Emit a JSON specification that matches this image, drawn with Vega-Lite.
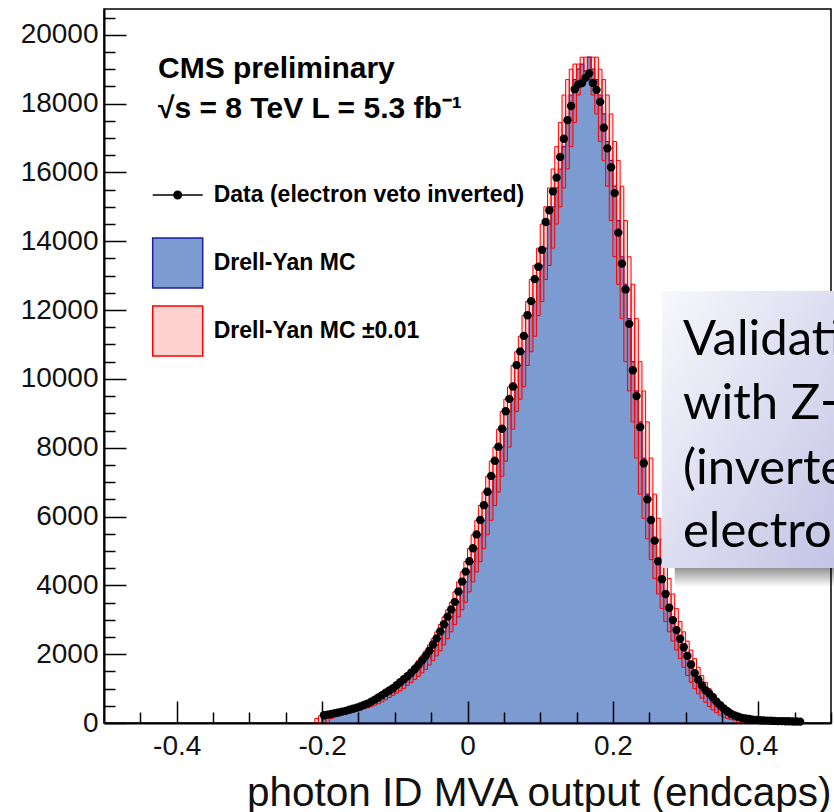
{
  "$schema": "https://vega.github.io/schema/vega-lite/v6.json",
  "width": 727,
  "height": 714,
  "autosize": {"type": "none"},
  "padding": {"left": 104, "top": 9, "right": 3, "bottom": 89},
  "background": "white",
  "config": {"view": {"stroke": "black", "strokeWidth": 1.5}, "font": "Liberation Sans"},
  "resolve": {"axis": {"x": "independent", "y": "independent"}},
  "datasets": {
    "mc": [
      {"lo": -0.2, "n": 130}, {"lo": -0.195, "n": 210}, {"lo": -0.19, "n": 240}, {"lo": -0.185, "n": 260},
      {"lo": -0.18, "n": 280}, {"lo": -0.175, "n": 305}, {"lo": -0.17, "n": 330}, {"lo": -0.165, "n": 350},
      {"lo": -0.16, "n": 380}, {"lo": -0.155, "n": 410}, {"lo": -0.15, "n": 440}, {"lo": -0.145, "n": 475},
      {"lo": -0.14, "n": 520}, {"lo": -0.135, "n": 560}, {"lo": -0.13, "n": 615}, {"lo": -0.125, "n": 675},
      {"lo": -0.12, "n": 740}, {"lo": -0.115, "n": 805}, {"lo": -0.11, "n": 870}, {"lo": -0.105, "n": 940},
      {"lo": -0.1, "n": 1005}, {"lo": -0.095, "n": 1095}, {"lo": -0.09, "n": 1180}, {"lo": -0.085, "n": 1265},
      {"lo": -0.08, "n": 1355}, {"lo": -0.075, "n": 1455}, {"lo": -0.07, "n": 1560}, {"lo": -0.065, "n": 1685},
      {"lo": -0.06, "n": 1815}, {"lo": -0.055, "n": 1950}, {"lo": -0.05, "n": 2095}, {"lo": -0.045, "n": 2270},
      {"lo": -0.04, "n": 2450}, {"lo": -0.035, "n": 2650}, {"lo": -0.03, "n": 2860}, {"lo": -0.025, "n": 3080},
      {"lo": -0.02, "n": 3290}, {"lo": -0.015, "n": 3510}, {"lo": -0.01, "n": 3810}, {"lo": -0.005, "n": 4100},
      {"lo": 0, "n": 4390}, {"lo": 0.005, "n": 4690}, {"lo": 0.01, "n": 5070}, {"lo": 0.015, "n": 5470},
      {"lo": 0.02, "n": 5890}, {"lo": 0.025, "n": 6320}, {"lo": 0.03, "n": 6710}, {"lo": 0.035, "n": 7170},
      {"lo": 0.04, "n": 7610}, {"lo": 0.045, "n": 8020}, {"lo": 0.05, "n": 8540}, {"lo": 0.055, "n": 9050},
      {"lo": 0.06, "n": 9410}, {"lo": 0.065, "n": 9770}, {"lo": 0.07, "n": 10390}, {"lo": 0.075, "n": 10790},
      {"lo": 0.08, "n": 11240}, {"lo": 0.085, "n": 11840}, {"lo": 0.09, "n": 12250}, {"lo": 0.095, "n": 12890},
      {"lo": 0.1, "n": 13300}, {"lo": 0.105, "n": 13800}, {"lo": 0.11, "n": 14500}, {"lo": 0.115, "n": 15000},
      {"lo": 0.12, "n": 15550}, {"lo": 0.125, "n": 16100}, {"lo": 0.13, "n": 16750}, {"lo": 0.135, "n": 17450},
      {"lo": 0.14, "n": 18250}, {"lo": 0.145, "n": 18700}, {"lo": 0.15, "n": 19000}, {"lo": 0.155, "n": 19150},
      {"lo": 0.16, "n": 18950}, {"lo": 0.165, "n": 19350}, {"lo": 0.17, "n": 19000}, {"lo": 0.175, "n": 18700},
      {"lo": 0.18, "n": 18250}, {"lo": 0.185, "n": 17700}, {"lo": 0.19, "n": 16900}, {"lo": 0.195, "n": 16350},
      {"lo": 0.2, "n": 15600}, {"lo": 0.205, "n": 14600}, {"lo": 0.21, "n": 13550}, {"lo": 0.215, "n": 12750},
      {"lo": 0.22, "n": 11750}, {"lo": 0.225, "n": 10500}, {"lo": 0.23, "n": 9650}, {"lo": 0.235, "n": 8750},
      {"lo": 0.24, "n": 7700}, {"lo": 0.245, "n": 6650}, {"lo": 0.25, "n": 5950}, {"lo": 0.255, "n": 5350},
      {"lo": 0.26, "n": 4750}, {"lo": 0.265, "n": 4200}, {"lo": 0.27, "n": 3750}, {"lo": 0.275, "n": 3330},
      {"lo": 0.28, "n": 2950}, {"lo": 0.285, "n": 2650}, {"lo": 0.29, "n": 2380}, {"lo": 0.295, "n": 2120},
      {"lo": 0.3, "n": 1870}, {"lo": 0.305, "n": 1620}, {"lo": 0.31, "n": 1380}, {"lo": 0.315, "n": 1180},
      {"lo": 0.32, "n": 1000}, {"lo": 0.325, "n": 850}, {"lo": 0.33, "n": 720}, {"lo": 0.335, "n": 600},
      {"lo": 0.34, "n": 480}, {"lo": 0.345, "n": 380}, {"lo": 0.35, "n": 300}, {"lo": 0.355, "n": 230},
      {"lo": 0.36, "n": 170}, {"lo": 0.365, "n": 130}, {"lo": 0.37, "n": 100}, {"lo": 0.375, "n": 80},
      {"lo": 0.38, "n": 0}
    ],
    "band": [
      {"lo": -0.21, "hi": -0.205, "ylo": 0, "yhi": 130}, {"lo": -0.205, "hi": -0.2, "ylo": 0, "yhi": 210},
      {"lo": -0.2, "hi": -0.195, "ylo": 0, "yhi": 240}, {"lo": -0.195, "hi": -0.19, "ylo": 0, "yhi": 260},
      {"lo": -0.19, "hi": -0.185, "ylo": 130, "yhi": 280}, {"lo": -0.185, "hi": -0.18, "ylo": 210, "yhi": 305},
      {"lo": -0.18, "hi": -0.175, "ylo": 240, "yhi": 330}, {"lo": -0.175, "hi": -0.17, "ylo": 260, "yhi": 350},
      {"lo": -0.17, "hi": -0.165, "ylo": 280, "yhi": 380}, {"lo": -0.165, "hi": -0.16, "ylo": 305, "yhi": 410},
      {"lo": -0.16, "hi": -0.155, "ylo": 330, "yhi": 440}, {"lo": -0.155, "hi": -0.15, "ylo": 350, "yhi": 475},
      {"lo": -0.15, "hi": -0.145, "ylo": 380, "yhi": 520}, {"lo": -0.145, "hi": -0.14, "ylo": 410, "yhi": 560},
      {"lo": -0.14, "hi": -0.135, "ylo": 440, "yhi": 615}, {"lo": -0.135, "hi": -0.13, "ylo": 475, "yhi": 675},
      {"lo": -0.13, "hi": -0.125, "ylo": 520, "yhi": 740}, {"lo": -0.125, "hi": -0.12, "ylo": 560, "yhi": 805},
      {"lo": -0.12, "hi": -0.115, "ylo": 615, "yhi": 870}, {"lo": -0.115, "hi": -0.11, "ylo": 675, "yhi": 940},
      {"lo": -0.11, "hi": -0.105, "ylo": 740, "yhi": 1005}, {"lo": -0.105, "hi": -0.1, "ylo": 805, "yhi": 1095},
      {"lo": -0.1, "hi": -0.095, "ylo": 870, "yhi": 1180}, {"lo": -0.095, "hi": -0.09, "ylo": 940, "yhi": 1265},
      {"lo": -0.09, "hi": -0.085, "ylo": 1005, "yhi": 1355}, {"lo": -0.085, "hi": -0.08, "ylo": 1095, "yhi": 1455},
      {"lo": -0.08, "hi": -0.075, "ylo": 1180, "yhi": 1560}, {"lo": -0.075, "hi": -0.07, "ylo": 1265, "yhi": 1685},
      {"lo": -0.07, "hi": -0.065, "ylo": 1355, "yhi": 1815}, {"lo": -0.065, "hi": -0.06, "ylo": 1455, "yhi": 1950},
      {"lo": -0.06, "hi": -0.055, "ylo": 1560, "yhi": 2095}, {"lo": -0.055, "hi": -0.05, "ylo": 1685, "yhi": 2270},
      {"lo": -0.05, "hi": -0.045, "ylo": 1815, "yhi": 2450}, {"lo": -0.045, "hi": -0.04, "ylo": 1950, "yhi": 2650},
      {"lo": -0.04, "hi": -0.035, "ylo": 2095, "yhi": 2860}, {"lo": -0.035, "hi": -0.03, "ylo": 2270, "yhi": 3080},
      {"lo": -0.03, "hi": -0.025, "ylo": 2450, "yhi": 3290}, {"lo": -0.025, "hi": -0.02, "ylo": 2650, "yhi": 3510},
      {"lo": -0.02, "hi": -0.015, "ylo": 2860, "yhi": 3810}, {"lo": -0.015, "hi": -0.01, "ylo": 3080, "yhi": 4100},
      {"lo": -0.01, "hi": -0.005, "ylo": 3290, "yhi": 4390}, {"lo": -0.005, "hi": 0, "ylo": 3510, "yhi": 4690},
      {"lo": 0, "hi": 0.005, "ylo": 3810, "yhi": 5070}, {"lo": 0.005, "hi": 0.01, "ylo": 4100, "yhi": 5470},
      {"lo": 0.01, "hi": 0.015, "ylo": 4390, "yhi": 5890}, {"lo": 0.015, "hi": 0.02, "ylo": 4690, "yhi": 6320},
      {"lo": 0.02, "hi": 0.025, "ylo": 5070, "yhi": 6710}, {"lo": 0.025, "hi": 0.03, "ylo": 5470, "yhi": 7170},
      {"lo": 0.03, "hi": 0.035, "ylo": 5890, "yhi": 7610}, {"lo": 0.035, "hi": 0.04, "ylo": 6320, "yhi": 8020},
      {"lo": 0.04, "hi": 0.045, "ylo": 6710, "yhi": 8540}, {"lo": 0.045, "hi": 0.05, "ylo": 7170, "yhi": 9050},
      {"lo": 0.05, "hi": 0.055, "ylo": 7610, "yhi": 9410}, {"lo": 0.055, "hi": 0.06, "ylo": 8020, "yhi": 9770},
      {"lo": 0.06, "hi": 0.065, "ylo": 8540, "yhi": 10390}, {"lo": 0.065, "hi": 0.07, "ylo": 9050, "yhi": 10790},
      {"lo": 0.07, "hi": 0.075, "ylo": 9410, "yhi": 11240}, {"lo": 0.075, "hi": 0.08, "ylo": 9770, "yhi": 11840},
      {"lo": 0.08, "hi": 0.085, "ylo": 10390, "yhi": 12250}, {"lo": 0.085, "hi": 0.09, "ylo": 10790, "yhi": 12890},
      {"lo": 0.09, "hi": 0.095, "ylo": 11240, "yhi": 13300}, {"lo": 0.095, "hi": 0.1, "ylo": 11840, "yhi": 13800},
      {"lo": 0.1, "hi": 0.105, "ylo": 12250, "yhi": 14500}, {"lo": 0.105, "hi": 0.11, "ylo": 12890, "yhi": 15000},
      {"lo": 0.11, "hi": 0.115, "ylo": 13300, "yhi": 15550}, {"lo": 0.115, "hi": 0.12, "ylo": 13800, "yhi": 16100},
      {"lo": 0.12, "hi": 0.125, "ylo": 14500, "yhi": 16750}, {"lo": 0.125, "hi": 0.13, "ylo": 15000, "yhi": 17450},
      {"lo": 0.13, "hi": 0.135, "ylo": 15550, "yhi": 18250}, {"lo": 0.135, "hi": 0.14, "ylo": 16100, "yhi": 18700},
      {"lo": 0.14, "hi": 0.145, "ylo": 16750, "yhi": 19000}, {"lo": 0.145, "hi": 0.15, "ylo": 17450, "yhi": 19150},
      {"lo": 0.15, "hi": 0.155, "ylo": 18250, "yhi": 19150}, {"lo": 0.155, "hi": 0.16, "ylo": 18700, "yhi": 19350},
      {"lo": 0.16, "hi": 0.165, "ylo": 18950, "yhi": 19350}, {"lo": 0.165, "hi": 0.17, "ylo": 18700, "yhi": 19350},
      {"lo": 0.17, "hi": 0.175, "ylo": 18250, "yhi": 19350}, {"lo": 0.175, "hi": 0.18, "ylo": 17700, "yhi": 19350},
      {"lo": 0.18, "hi": 0.185, "ylo": 16900, "yhi": 19000}, {"lo": 0.185, "hi": 0.19, "ylo": 16350, "yhi": 18700},
      {"lo": 0.19, "hi": 0.195, "ylo": 15600, "yhi": 18250}, {"lo": 0.195, "hi": 0.2, "ylo": 14600, "yhi": 17700},
      {"lo": 0.2, "hi": 0.205, "ylo": 13550, "yhi": 16900}, {"lo": 0.205, "hi": 0.21, "ylo": 12750, "yhi": 16350},
      {"lo": 0.21, "hi": 0.215, "ylo": 11750, "yhi": 15600}, {"lo": 0.215, "hi": 0.22, "ylo": 10500, "yhi": 14600},
      {"lo": 0.22, "hi": 0.225, "ylo": 9650, "yhi": 13550}, {"lo": 0.225, "hi": 0.23, "ylo": 8750, "yhi": 12750},
      {"lo": 0.23, "hi": 0.235, "ylo": 7700, "yhi": 11750}, {"lo": 0.235, "hi": 0.24, "ylo": 6650, "yhi": 10500},
      {"lo": 0.24, "hi": 0.245, "ylo": 5950, "yhi": 9650}, {"lo": 0.245, "hi": 0.25, "ylo": 5350, "yhi": 8750},
      {"lo": 0.25, "hi": 0.255, "ylo": 4750, "yhi": 7700}, {"lo": 0.255, "hi": 0.26, "ylo": 4200, "yhi": 6650},
      {"lo": 0.26, "hi": 0.265, "ylo": 3750, "yhi": 5950}, {"lo": 0.265, "hi": 0.27, "ylo": 3330, "yhi": 5350},
      {"lo": 0.27, "hi": 0.275, "ylo": 2950, "yhi": 4750}, {"lo": 0.275, "hi": 0.28, "ylo": 2650, "yhi": 4200},
      {"lo": 0.28, "hi": 0.285, "ylo": 2380, "yhi": 3750}, {"lo": 0.285, "hi": 0.29, "ylo": 2120, "yhi": 3330},
      {"lo": 0.29, "hi": 0.295, "ylo": 1870, "yhi": 2950}, {"lo": 0.295, "hi": 0.3, "ylo": 1620, "yhi": 2650},
      {"lo": 0.3, "hi": 0.305, "ylo": 1380, "yhi": 2380}, {"lo": 0.305, "hi": 0.31, "ylo": 1180, "yhi": 2120},
      {"lo": 0.31, "hi": 0.315, "ylo": 1000, "yhi": 1870}, {"lo": 0.315, "hi": 0.32, "ylo": 850, "yhi": 1620},
      {"lo": 0.32, "hi": 0.325, "ylo": 720, "yhi": 1380}, {"lo": 0.325, "hi": 0.33, "ylo": 600, "yhi": 1180},
      {"lo": 0.33, "hi": 0.335, "ylo": 480, "yhi": 1000}, {"lo": 0.335, "hi": 0.34, "ylo": 380, "yhi": 850},
      {"lo": 0.34, "hi": 0.345, "ylo": 300, "yhi": 720}, {"lo": 0.345, "hi": 0.35, "ylo": 230, "yhi": 600},
      {"lo": 0.35, "hi": 0.355, "ylo": 170, "yhi": 480}, {"lo": 0.355, "hi": 0.36, "ylo": 130, "yhi": 380},
      {"lo": 0.36, "hi": 0.365, "ylo": 100, "yhi": 300}, {"lo": 0.365, "hi": 0.37, "ylo": 80, "yhi": 230},
      {"lo": 0.37, "hi": 0.375, "ylo": 0, "yhi": 170}, {"lo": 0.375, "hi": 0.38, "ylo": 0, "yhi": 130},
      {"lo": 0.38, "hi": 0.385, "ylo": 0, "yhi": 100}, {"lo": 0.385, "hi": 0.39, "ylo": 0, "yhi": 80}
    ],
    "obs": [
      {"x": -0.1975, "n": 225}, {"x": -0.1925, "n": 245}, {"x": -0.1875, "n": 262}, {"x": -0.1825, "n": 285},
      {"x": -0.1775, "n": 305}, {"x": -0.1725, "n": 330}, {"x": -0.1675, "n": 352}, {"x": -0.1625, "n": 385},
      {"x": -0.1575, "n": 415}, {"x": -0.1525, "n": 445}, {"x": -0.1475, "n": 480}, {"x": -0.1425, "n": 525},
      {"x": -0.1375, "n": 565}, {"x": -0.1325, "n": 620}, {"x": -0.1275, "n": 680}, {"x": -0.1225, "n": 745},
      {"x": -0.1175, "n": 810}, {"x": -0.1125, "n": 880}, {"x": -0.1075, "n": 945}, {"x": -0.1025, "n": 1010},
      {"x": -0.0975, "n": 1100}, {"x": -0.0925, "n": 1185}, {"x": -0.0875, "n": 1270}, {"x": -0.0825, "n": 1360},
      {"x": -0.0775, "n": 1460}, {"x": -0.0725, "n": 1565}, {"x": -0.0675, "n": 1690}, {"x": -0.0625, "n": 1820},
      {"x": -0.0575, "n": 1955}, {"x": -0.0525, "n": 2100}, {"x": -0.0475, "n": 2280}, {"x": -0.0425, "n": 2460},
      {"x": -0.0375, "n": 2660}, {"x": -0.0325, "n": 2870}, {"x": -0.0275, "n": 3090}, {"x": -0.0225, "n": 3300},
      {"x": -0.0175, "n": 3520}, {"x": -0.0125, "n": 3820}, {"x": -0.0075, "n": 4110}, {"x": -0.0025, "n": 4400},
      {"x": 0.0025, "n": 4700}, {"x": 0.0075, "n": 5080}, {"x": 0.0125, "n": 5480}, {"x": 0.0175, "n": 5900},
      {"x": 0.0225, "n": 6330}, {"x": 0.0275, "n": 6720}, {"x": 0.0325, "n": 7180}, {"x": 0.0375, "n": 7620},
      {"x": 0.0425, "n": 8030}, {"x": 0.0475, "n": 8550}, {"x": 0.0525, "n": 9060}, {"x": 0.0575, "n": 9420},
      {"x": 0.0625, "n": 9780}, {"x": 0.0675, "n": 10400}, {"x": 0.0725, "n": 10800}, {"x": 0.0775, "n": 11250},
      {"x": 0.0825, "n": 11850}, {"x": 0.0875, "n": 12260}, {"x": 0.0925, "n": 12900}, {"x": 0.0975, "n": 13260},
      {"x": 0.1025, "n": 13750}, {"x": 0.1075, "n": 14560}, {"x": 0.1125, "n": 14900}, {"x": 0.1175, "n": 15450},
      {"x": 0.1225, "n": 15850}, {"x": 0.1275, "n": 16450}, {"x": 0.1325, "n": 16980}, {"x": 0.1375, "n": 17520},
      {"x": 0.1425, "n": 17930}, {"x": 0.1475, "n": 18420}, {"x": 0.1525, "n": 18560}, {"x": 0.1575, "n": 18600},
      {"x": 0.1625, "n": 18750}, {"x": 0.1675, "n": 18880}, {"x": 0.1725, "n": 18600}, {"x": 0.1775, "n": 18400},
      {"x": 0.1825, "n": 18050}, {"x": 0.1875, "n": 17300}, {"x": 0.1925, "n": 16700}, {"x": 0.1975, "n": 16150},
      {"x": 0.2025, "n": 15400}, {"x": 0.2075, "n": 14250}, {"x": 0.2125, "n": 13350}, {"x": 0.2175, "n": 12600},
      {"x": 0.2225, "n": 11600}, {"x": 0.2275, "n": 10250}, {"x": 0.2325, "n": 9500}, {"x": 0.2375, "n": 8600},
      {"x": 0.2425, "n": 7550}, {"x": 0.2475, "n": 6500}, {"x": 0.2525, "n": 5900}, {"x": 0.2575, "n": 5300},
      {"x": 0.2625, "n": 4700}, {"x": 0.2675, "n": 4180}, {"x": 0.2725, "n": 3750}, {"x": 0.2775, "n": 3350},
      {"x": 0.2825, "n": 2990}, {"x": 0.2875, "n": 2700}, {"x": 0.2925, "n": 2450}, {"x": 0.2975, "n": 2200},
      {"x": 0.3025, "n": 1950}, {"x": 0.3075, "n": 1700}, {"x": 0.3125, "n": 1450}, {"x": 0.3175, "n": 1260},
      {"x": 0.3225, "n": 1090}, {"x": 0.3275, "n": 950}, {"x": 0.3325, "n": 860}, {"x": 0.3375, "n": 750},
      {"x": 0.3425, "n": 620}, {"x": 0.3475, "n": 520}, {"x": 0.3525, "n": 420}, {"x": 0.3575, "n": 340},
      {"x": 0.3625, "n": 270}, {"x": 0.3675, "n": 220}, {"x": 0.3725, "n": 180}, {"x": 0.3775, "n": 150},
      {"x": 0.3825, "n": 130}, {"x": 0.3875, "n": 115}, {"x": 0.3925, "n": 100}, {"x": 0.3975, "n": 90},
      {"x": 0.4025, "n": 80}, {"x": 0.4075, "n": 75}, {"x": 0.4125, "n": 70}, {"x": 0.4175, "n": 65},
      {"x": 0.4225, "n": 60}, {"x": 0.4275, "n": 55}, {"x": 0.4325, "n": 55}, {"x": 0.4375, "n": 50},
      {"x": 0.4425, "n": 50}, {"x": 0.4475, "n": 45}, {"x": 0.4525, "n": 45}, {"x": 0.4575, "n": 40}
    ],
    "legend": [
      {"series": "Data (electron veto inverted)"},
      {"series": "Drell-Yan MC"},
      {"series": "Drell-Yan MC ±0.01"}
    ],
    "one": [{}]
  },
  "layer": [
    {
      "data": {"name": "mc"},
      "mark": {"type": "area", "interpolate": "step-after", "fill": "#7b9bd1", "stroke": "#1c1ca0", "strokeWidth": 1.2},
      "encoding": {
        "x": {"field": "lo", "type": "quantitative", "scale": {"domain": [-0.5, 0.5], "nice": false, "zero": false},
          "axis": {"orient": "bottom", "values": [-0.4, -0.2, 0, 0.2, 0.4], "labelExpr": "datum.value === 0 ? '0' : (datum.value < 0 ? '-' + format(-datum.value, '.1f') : format(datum.value, '.1f'))",
            "tickSize": -22, "tickWidth": 1.5, "tickColor": "black", "domainColor": "black", "domainWidth": 2,
            "labelFont": "Liberation Sans", "labelFontSize": 28, "labelColor": "#111", "labelPadding": 31, "labelFlush": false, "labelOverlap": false,
            "grid": false, "zindex": 1,
            "title": "photon ID MVA output (endcaps)", "titleFont": "Liberation Sans", "titleFontSize": 40.5, "titleFontWeight": "normal", "titleColor": "#111",
            "titleAnchor": "end", "titlePadding": 13}},
        "y": {"field": "n", "type": "quantitative", "scale": {"domain": [0, 20750], "nice": false},
          "axis": {"orient": "left", "values": [0, 2000, 4000, 6000, 8000, 10000, 12000, 14000, 16000, 18000, 20000], "format": "d",
            "tickSize": -22, "tickWidth": 1.5, "tickColor": "black", "domainColor": "black", "domainWidth": 2,
            "labelFont": "Liberation Sans", "labelFontSize": 28, "labelColor": "#111", "labelPadding": 28, "labelFlush": false, "labelOverlap": false,
            "grid": false, "zindex": 1, "title": null}}
      }
    },
    {
      "data": {"name": "mc"},
      "mark": {"type": "point", "opacity": 0},
      "encoding": {
        "x": {"field": "lo", "type": "quantitative", "scale": {"domain": [-0.5, 0.5], "nice": false, "zero": false},
          "axis": {"orient": "bottom", "values": [-0.45, -0.35, -0.3, -0.25, -0.15, -0.1, -0.05, 0.05, 0.1, 0.15, 0.25, 0.3, 0.35, 0.45, 0.5],
            "tickSize": -11, "tickWidth": 1.5, "tickColor": "black", "labels": false, "domain": false, "grid": false, "title": null, "zindex": 1}},
        "y": {"field": "n", "type": "quantitative", "scale": {"domain": [0, 20750], "nice": false},
          "axis": {"orient": "left", "values": [500, 1000, 1500, 2500, 3000, 3500, 4500, 5000, 5500, 6500, 7000, 7500, 8500, 9000, 9500, 10500, 11000, 11500, 12500, 13000, 13500, 14500, 15000, 15500, 16500, 17000, 17500, 18500, 19000, 19500, 20500],
            "tickSize": -11, "tickWidth": 1.5, "tickColor": "black", "labels": false, "domain": false, "grid": false, "title": null, "zindex": 1}}
      }
    },
    {
      "data": {"name": "band"},
      "mark": {"type": "rect", "fill": "#ff0000", "fillOpacity": 0.13, "stroke": "#ff0000", "strokeWidth": 1},
      "encoding": {
        "x": {"field": "lo", "type": "quantitative", "scale": {"domain": [-0.5, 0.5], "nice": false, "zero": false}, "axis": null},
        "x2": {"field": "hi"},
        "y": {"field": "ylo", "type": "quantitative", "scale": {"domain": [0, 20750], "nice": false}, "axis": null},
        "y2": {"field": "yhi"}
      }
    },
    {
      "data": {"name": "obs"},
      "mark": {"type": "circle", "size": 70, "color": "black", "opacity": 1},
      "encoding": {
        "x": {"field": "x", "type": "quantitative", "scale": {"domain": [-0.5, 0.5], "nice": false, "zero": false}, "axis": null},
        "y": {"field": "n", "type": "quantitative", "scale": {"domain": [0, 20750], "nice": false}, "axis": null}
      }
    },
    {
      "data": {"name": "legend"},
      "mark": {"type": "point", "filled": true, "opacity": 0},
      "encoding": {
        "fill": {"field": "series", "type": "nominal",
          "scale": {"domain": ["Data (electron veto inverted)", "Drell-Yan MC", "Drell-Yan MC ±0.01"], "range": ["#000000", "#7b9bd1", "#ffd2d2"]},
          "legend": {"orient": "none", "legendX": 47.7, "legendY": 160, "title": null, "symbolSize": 2500, "symbolStrokeWidth": 1.5, "symbolOpacity": 1,
            "labelFont": "Liberation Sans", "labelFontSize": 23, "labelFontWeight": "bold", "labelColor": "#000", "labelOffset": 10, "rowPadding": 12, "padding": 0, "labelLimit": 600,
            "encode": {"symbols": {"update": {"fill": {"scale": "fill", "field": "value"}, "stroke": {"scale": "stroke", "field": "value"}, "fillOpacity": {"value": 1}, "opacity": {"value": 1}}}}}},
        "stroke": {"field": "series", "type": "nominal",
          "scale": {"domain": ["Data (electron veto inverted)", "Drell-Yan MC", "Drell-Yan MC ±0.01"], "range": ["#000000", "#1c1ca0", "#ff0000"]}},
        "shape": {"field": "series", "type": "nominal",
          "scale": {"domain": ["Data (electron veto inverted)", "Drell-Yan MC", "Drell-Yan MC ±0.01"], "range": ["M0,-1M0,1M-1,0L1,0M0.15,0A0.15,0.15,0,1,1,-0.15,0A0.15,0.15,0,1,1,0.15,0Z", "square", "square"]}}
      }
    },
    {
      "data": {"name": "one"},
      "mark": {"type": "text", "text": "CMS preliminary", "align": "left", "baseline": "alphabetic", "font": "Liberation Sans", "fontWeight": "bold", "fontSize": 30, "color": "#000"},
      "encoding": {
        "x": {"datum": -0.4257, "type": "quantitative", "scale": {"domain": [-0.5, 0.5], "nice": false, "zero": false}, "axis": null},
        "y": {"datum": 18736, "type": "quantitative", "scale": {"domain": [0, 20750], "nice": false}, "axis": null}
      }
    },
    {
      "data": {"name": "one"},
      "mark": {"type": "text", "text": "√s = 8 TeV L = 5.3 fb⁻¹", "align": "left", "baseline": "alphabetic", "font": "Liberation Sans", "fontWeight": "bold", "fontSize": 30, "color": "#000"},
      "encoding": {
        "x": {"datum": -0.4257, "type": "quantitative", "scale": {"domain": [-0.5, 0.5], "nice": false, "zero": false}, "axis": null},
        "y": {"datum": 17574, "type": "quantitative", "scale": {"domain": [0, 20750], "nice": false}, "axis": null}
      }
    },
    {
      "data": {"name": "one"},
      "mark": {"type": "rect", "fill": {"gradient": "linear", "x1": 0, "y1": 0, "x2": 0, "y2": 1, "stops": [{"offset": 0, "color": "rgba(0,0,0,0.42)"}, {"offset": 1, "color": "rgba(0,0,0,0)"}]}},
      "encoding": {
        "x": {"datum": 0.285, "type": "quantitative", "scale": {"domain": [-0.5, 0.5], "nice": false, "zero": false}, "axis": null},
        "x2": {"datum": 0.51},
        "y": {"datum": 4505, "type": "quantitative", "scale": {"domain": [0, 20750], "nice": false}, "axis": null},
        "y2": {"datum": 3950}
      }
    },
    {
      "data": {"name": "one"},
      "mark": {"type": "rect", "fill": {"gradient": "linear", "x1": 0, "y1": 0, "x2": 1, "y2": 1, "stops": [{"offset": 0, "color": "#f8f8fd"}, {"offset": 1, "color": "#c3c3e5"}]}},
      "encoding": {
        "x": {"datum": 0.2671, "type": "quantitative", "scale": {"domain": [-0.5, 0.5], "nice": false, "zero": false}, "axis": null},
        "x2": {"datum": 0.51},
        "y": {"datum": 12555, "type": "quantitative", "scale": {"domain": [0, 20750], "nice": false}, "axis": null},
        "y2": {"datum": 4505}
      }
    },
    {
      "data": {"name": "one"},
      "mark": {"type": "text", "text": "Validation", "align": "left", "baseline": "middle", "font": "Lato", "fontSize": 49, "color": "#000"},
      "encoding": {
        "x": {"datum": 0.2964, "type": "quantitative", "scale": {"domain": [-0.5, 0.5], "nice": false, "zero": false}, "axis": null},
        "y": {"datum": 11120, "type": "quantitative", "scale": {"domain": [0, 20750], "nice": false}, "axis": null}
      }
    },
    {
      "data": {"name": "one"},
      "mark": {"type": "text", "text": "with Z→ee", "align": "left", "baseline": "middle", "font": "Lato", "fontSize": 49, "color": "#000"},
      "encoding": {
        "x": {"datum": 0.2964, "type": "quantitative", "scale": {"domain": [-0.5, 0.5], "nice": false, "zero": false}, "axis": null},
        "y": {"datum": 9260, "type": "quantitative", "scale": {"domain": [0, 20750], "nice": false}, "axis": null}
      }
    },
    {
      "data": {"name": "one"},
      "mark": {"type": "text", "text": "(inverted", "align": "left", "baseline": "middle", "font": "Lato", "fontSize": 49, "color": "#000"},
      "encoding": {
        "x": {"datum": 0.2964, "type": "quantitative", "scale": {"domain": [-0.5, 0.5], "nice": false, "zero": false}, "axis": null},
        "y": {"datum": 7370, "type": "quantitative", "scale": {"domain": [0, 20750], "nice": false}, "axis": null}
      }
    },
    {
      "data": {"name": "one"},
      "mark": {"type": "text", "text": "electron veto)", "align": "left", "baseline": "middle", "font": "Lato", "fontSize": 49, "color": "#000"},
      "encoding": {
        "x": {"datum": 0.2964, "type": "quantitative", "scale": {"domain": [-0.5, 0.5], "nice": false, "zero": false}, "axis": null},
        "y": {"datum": 5540, "type": "quantitative", "scale": {"domain": [0, 20750], "nice": false}, "axis": null}
      }
    }
  ]
}
